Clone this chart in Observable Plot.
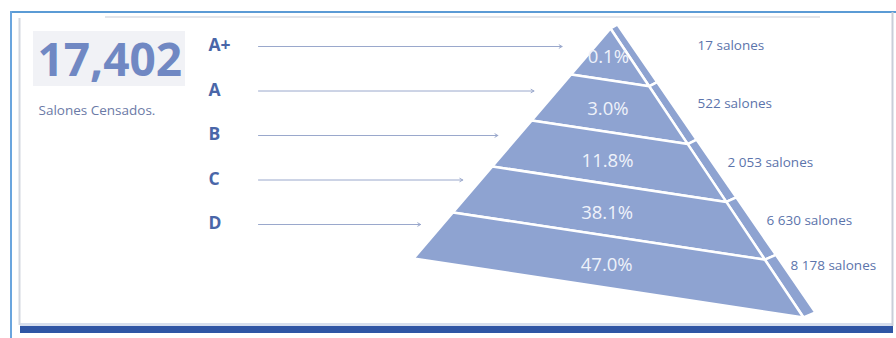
<!DOCTYPE html>
<html>
<head>
<meta charset="utf-8">
<script src="https://cdn.jsdelivr.net/npm/d3@7"></script>
<script src="https://cdn.jsdelivr.net/npm/@observablehq/plot@0.6"></script>
<style>
  html, body { margin: 0; padding: 0; background: #fff; }
  #chart { width: 896px; height: 338px; }
</style>
</head>
<body>
<div id="chart"></div>
<script>
// ---------- data ----------
const categories = ["A+", "A", "B", "C", "D"];
const shares = [0.1, 3.0, 11.8, 38.1, 47.0];        // % of salons
const counts = [17, 522, 2053, 6630, 8178];          // salons per category
const total = 17402;
const totalLabel = "Salones Censados.";

// ---------- layout (pixels) ----------
const W = 896, H = 338;
const apex = [610, 28], baseL = [413, 258], baseR = [803, 317];
const sideOff0 = [7, -4], sideOff1 = [12, -5];
const letterX = 208, letterY0 = 45, letterStep = 44.5;
const arrowX1 = 258, arrowGap = [33, 23, 21, 18, 22];
const countPos = [[697, 45], [697, 103], [727, 162], [766, 220], [790, 265]];

const lerp = (a, b, t) => [a[0] + (b[0] - a[0]) * t, a[1] + (b[1] - a[1]) * t];
const L = t => lerp(apex, baseL, t);
const R = t => lerp(apex, baseR, t);
const O = t => { const r = R(t), o = lerp(sideOff0, sideOff1, t); return [r[0] + o[0], r[1] + o[1]]; };
const n = categories.length;
const leftEdgeX = y => apex[0] + (baseL[0] - apex[0]) * (y - apex[1]) / (baseL[1] - apex[1]);

const front = [], side = [];
categories.forEach((c, i) => {
  const t0 = i / n, t1 = (i + 1) / n;
  [L(t0), L(t1), R(t1), R(t0)].forEach(p => front.push({band: c, x: p[0], y: p[1]}));
  [R(t0), R(t1), O(t1), O(t0)].forEach(p => side.push({band: c, x: p[0], y: p[1]}));
});
const pctLabels = categories.map((c, i) => {
  const t = (i + 0.5) / n, a = L(t), b = R(t);
  return {text: shares[i].toFixed(1) + "%", x: (a[0] + b[0]) / 2 - 2, y: (a[1] + b[1]) / 2 + 3};
});
const fmtCount = d => d3.format(",")(d).replace(/,/g, " ") + " salones";
const countLabels = counts.map((v, i) => ({text: fmtCount(v), x: countPos[i][0], y: countPos[i][1]}));
const letters = categories.map((c, i) => ({text: c, x: letterX, y: letterY0 + i * letterStep}));
const arrows = categories.map((c, i) => {
  const y = letterY0 + i * letterStep + 1;
  return {x1: arrowX1, x2: leftEdgeX(y) - arrowGap[i], y};
});

const fill = "#8ea3d1";
const chart = Plot.plot({
  width: W, height: H,
  marginTop: 0, marginRight: 0, marginBottom: 0, marginLeft: 0,
  x: {type: "linear", domain: [0, W], range: [0, W], axis: null},
  y: {type: "linear", domain: [0, H], range: [0, H], axis: null},
  style: {fontFamily: "'Open Sans', sans-serif", background: "transparent"},
  marks: [
    // frame
    Plot.rect([{x1: 20, x2: 893, y1: 326, y2: 333}], {x1: "x1", x2: "x2", y1: "y1", y2: "y2", fill: "#2f55a4"}),
    Plot.rect([{x1: 20, x2: 893, y1: 323, y2: 326}], {x1: "x1", x2: "x2", y1: "y1", y2: "y2", fill: "#8aa0cf", fillOpacity: 0.35}),
    Plot.ruleY([11.5], {x1: 10, x2: W, stroke: "#5b9bd5", strokeWidth: 2}),
    Plot.ruleX([10.5], {y1: 11, y2: H, stroke: "#6aa5de", strokeWidth: 2}),
    Plot.ruleX([19], {y1: 18, y2: 325, stroke: "#d3d7df", strokeWidth: 2}),
    Plot.ruleX([892], {y1: 12, y2: 326, stroke: "#c9ced8", strokeWidth: 2}),
    Plot.ruleY([16.5], {x1: 105, x2: 820, stroke: "#e3e5ea", strokeWidth: 2}),
    // total box
    Plot.rect([{x1: 33, x2: 185, y1: 31, y2: 86}], {x1: "x1", x2: "x2", y1: "y1", y2: "y2", fill: "#f1f2f6"}),
    Plot.text([d3.format(",")(total)], {x: 37, y: 61, text: d => d, textAnchor: "start", fontSize: 46, fontWeight: 700, fill: "#7088c3"}),
    Plot.text([totalLabel], {x: 38, y: 110, text: d => d, textAnchor: "start", fontSize: 13.5, fill: "#6b7aa6"}),
    // pyramid
    Plot.line(side, {x: "x", y: "y", z: "band", curve: "linear-closed", fill, stroke: "white", strokeWidth: 2.5}),
    Plot.line(front, {x: "x", y: "y", z: "band", curve: "linear-closed", fill, stroke: "white", strokeWidth: 2.5}),
    Plot.text(pctLabels, {x: "x", y: "y", text: "text", fontSize: 18.5, fill: "#eef2fa"}),
    // labels
    Plot.text(countLabels, {x: "x", y: "y", text: "text", textAnchor: "start", fontSize: 13.5, fill: "#5c74ab"}),
    Plot.text(letters, {x: "x", y: "y", text: "text", textAnchor: "start", fontSize: 17.5, fontWeight: 700, fill: "#4a66a8"}),
    Plot.arrow(arrows, {x1: "x1", x2: "x2", y1: "y", y2: "y", stroke: "#9aa8cc", strokeWidth: 1, headLength: 5})
  ]
});
document.getElementById("chart").appendChild(chart);
</script>
</body>
</html>
